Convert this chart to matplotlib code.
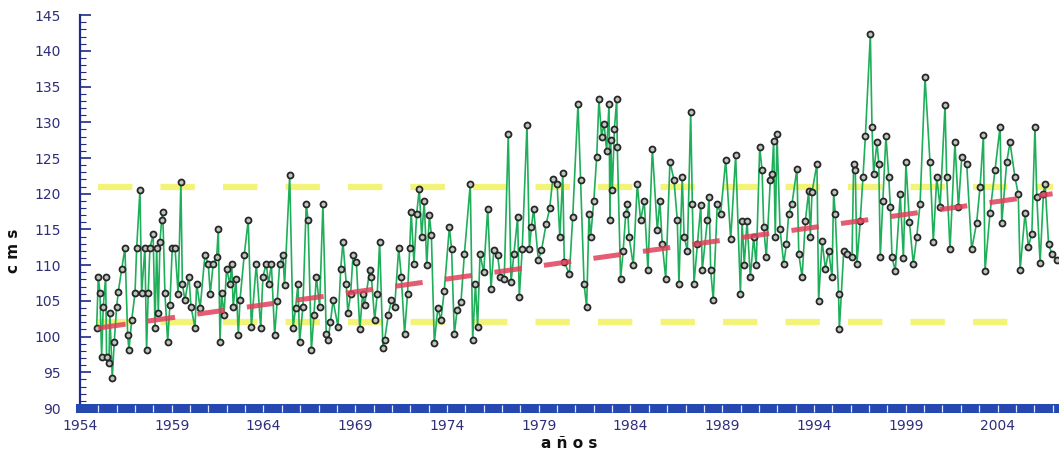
import numpy as np
import matplotlib
matplotlib.use("Agg")
import matplotlib.pyplot as plt

# sea level series (decimal year, cm)
years = [
    1954.91, 1955.00, 1955.09, 1955.18, 1955.27, 1955.40, 1955.45, 1955.58, 1955.63, 1955.76, 1955.87,
    1956.00, 1956.09, 1956.27, 1956.45, 1956.60, 1956.67, 1956.82,
    1957.00, 1957.09, 1957.27, 1957.36, 1957.54, 1957.63, 1957.72, 1957.81, 1957.99,
    1958.09, 1958.18, 1958.27, 1958.36, 1958.45, 1958.51, 1958.63, 1958.78, 1958.90,
    1959.03, 1959.18, 1959.35, 1959.50, 1959.58, 1959.72, 1959.94,
    1960.05, 1960.27, 1960.36, 1960.55, 1960.81, 1960.99,
    1961.10, 1961.26, 1961.45, 1961.54, 1961.63, 1961.72, 1961.85, 1961.99,
    1962.17, 1962.27, 1962.35, 1962.50, 1962.63, 1962.72, 1962.95,
    1963.17, 1963.34, 1963.61, 1963.85, 1963.97,
    1964.15, 1964.28, 1964.43, 1964.61, 1964.75, 1964.88,
    1965.06, 1965.15, 1965.43, 1965.61, 1965.75, 1965.88, 1965.97,
    1966.15, 1966.33, 1966.43, 1966.61, 1966.75, 1966.88,
    1967.06, 1967.24, 1967.42, 1967.52, 1967.65, 1967.79,
    1968.06, 1968.21, 1968.33, 1968.51, 1968.60, 1968.75, 1968.88,
    1969.06, 1969.25, 1969.40, 1969.51, 1969.79, 1969.88,
    1970.06, 1970.20, 1970.33, 1970.51, 1970.60, 1970.80, 1970.97,
    1971.15, 1971.37, 1971.51, 1971.69, 1971.85, 1971.97,
    1972.05, 1972.20, 1972.35, 1972.49, 1972.62, 1972.76, 1972.90,
    1973.04, 1973.15, 1973.31, 1973.50, 1973.67, 1973.85,
    1974.13, 1974.25, 1974.40, 1974.55, 1974.76, 1974.95,
    1975.27, 1975.40, 1975.55, 1975.67, 1975.80,
    1976.00, 1976.22, 1976.40, 1976.55, 1976.76, 1976.90,
    1977.12, 1977.34, 1977.49, 1977.65, 1977.85, 1977.94,
    1978.10, 1978.36, 1978.49, 1978.60, 1978.72, 1978.98,
    1979.15, 1979.40, 1979.60, 1979.76,
    1980.00, 1980.15, 1980.31, 1980.39, 1980.67, 1980.85,
    1981.14, 1981.28, 1981.47, 1981.61, 1981.74, 1981.83,
    1982.00, 1982.16, 1982.28, 1982.42, 1982.56, 1982.70, 1982.83, 1982.88, 1982.92,
    1983.01, 1983.12, 1983.25, 1983.28, 1983.46, 1983.60, 1983.74, 1983.83, 1983.92,
    1984.15, 1984.37, 1984.55, 1984.75, 1984.95,
    1985.19, 1985.46, 1985.60, 1985.73, 1985.92,
    1986.15, 1986.37, 1986.55, 1986.64, 1986.82, 1986.92,
    1987.10, 1987.28, 1987.37, 1987.46, 1987.65, 1987.83, 1987.91,
    1988.19, 1988.28, 1988.37, 1988.51, 1988.73, 1988.91,
    1989.19, 1989.46, 1989.73, 1989.99,
    1990.08, 1990.20, 1990.35, 1990.53, 1990.71, 1990.85,
    1991.04, 1991.17, 1991.26, 1991.40, 1991.62, 1991.71, 1991.80, 1991.89, 1991.98,
    1992.15, 1992.35, 1992.50, 1992.62, 1992.80,
    1993.07, 1993.17, 1993.35, 1993.53, 1993.71, 1993.80, 1993.89,
    1994.16, 1994.25, 1994.44, 1994.62, 1994.80, 1994.98,
    1995.07, 1995.16, 1995.34, 1995.38, 1995.62, 1995.80,
    1996.07, 1996.16, 1996.25, 1996.34, 1996.52, 1996.67, 1996.80,
    1997.07, 1997.16, 1997.25, 1997.43, 1997.53, 1997.61, 1997.75, 1997.92,
    1998.07, 1998.16, 1998.25, 1998.43, 1998.70, 1998.87,
    1999.01, 1999.20, 1999.41, 1999.60, 1999.78,
    2000.05, 2000.32, 2000.50, 2000.69, 2000.87,
    2001.14, 2001.23, 2001.41, 2001.68, 2001.87,
    2002.05, 2002.32, 2002.59, 2002.86,
    2003.05, 2003.23, 2003.32, 2003.59, 2003.86,
    2004.14, 2004.23, 2004.50, 2004.68, 2004.95,
    2005.13, 2005.23, 2005.50, 2005.68, 2005.87,
    2006.04, 2006.14, 2006.32, 2006.50, 2006.59, 2006.78, 2006.96,
    2007.23,
]
levels = [
    101.2, 108.4, 106.1, 97.2, 104.2, 108.4, 97.2, 96.3, 103.3, 94.2, 99.3,
    104.2, 106.3, 109.4, 112.4, 100.2, 98.1, 102.3,
    106.1, 112.4, 120.5, 106.1, 112.4, 98.1, 106.1, 112.4, 114.3,
    101.2, 112.4, 103.3, 113.3, 116.3, 117.5, 106.1, 99.3, 104.4,
    112.4, 112.4, 106.0, 121.6, 107.4, 105.1, 108.4,
    104.2, 101.2, 107.4, 104.0, 111.4, 110.2,
    106.0, 110.2, 111.1, 115.1, 99.3, 106.1, 103.0, 109.5,
    107.4, 110.2, 104.2, 108.0, 100.2, 105.1, 111.4,
    116.3, 101.4, 110.2, 101.2, 108.4,
    110.2, 107.4, 110.2, 100.2, 105.0, 110.2,
    111.4, 107.2, 122.6, 101.2, 104.0, 107.4, 99.3,
    104.2, 118.6, 116.3, 98.1, 103.0, 108.4,
    104.2, 118.6, 100.4, 99.5, 102.0, 105.1,
    101.4, 109.5, 113.3, 107.4, 103.3, 106.0, 111.4,
    110.5, 101.0, 106.0, 104.4, 109.3, 108.4,
    102.3, 106.0, 113.3, 98.4, 99.5, 103.0, 105.1,
    104.2, 112.4, 108.4, 100.4, 106.0, 112.4,
    117.5, 110.2, 117.2, 120.7, 114.0, 119.0, 110.0,
    117.0, 114.2, 99.1, 104.0, 102.3, 106.4,
    115.3, 112.3, 100.3, 103.7, 104.8, 111.6,
    121.4, 99.5, 107.4, 101.4, 111.6,
    109.0, 117.9, 106.7, 112.1, 111.4, 108.4,
    108.1, 128.4, 107.6, 111.6, 116.7, 105.5,
    112.3, 129.6, 112.3, 115.3, 117.9, 110.7,
    112.1, 115.7, 118.0, 122.0,
    121.4, 113.9, 122.9, 110.5, 108.7, 116.7,
    132.6, 121.9, 107.4, 104.1, 117.2, 114.0,
    119.0, 125.2, 133.3, 128.0, 129.8, 126.0, 132.6, 116.3, 127.5,
    120.5, 129.0, 133.3, 126.6, 108.1, 112.0, 117.2, 118.6, 114.0,
    110.0, 121.4, 116.3, 119.0, 109.3,
    126.3, 114.9, 119.0, 113.0, 108.1,
    124.5, 121.9, 116.3, 107.4, 122.4, 114.0,
    112.0, 131.4, 118.6, 107.4, 113.0, 118.4, 109.3,
    116.3, 119.6, 109.3, 105.1, 118.6, 117.2,
    124.7, 113.6, 125.4, 105.9,
    116.2, 110.0, 116.2, 108.3, 113.9, 110.0,
    126.5, 123.3, 115.3, 111.1, 121.9, 122.8, 127.4, 113.9, 128.4,
    115.0, 110.2, 113.0, 117.2, 118.6,
    123.5, 111.6, 108.3, 116.2, 120.4, 114.0, 120.2,
    124.2, 105.0, 113.4, 109.5, 112.0, 108.3,
    120.2, 117.2, 105.9, 101.0, 112.0, 111.6,
    111.1, 124.2, 123.3, 110.2, 116.2, 122.4, 128.1,
    142.3, 129.3, 122.8, 127.2, 124.2, 111.1, 119.0, 128.1,
    122.4, 118.2, 111.1, 109.2, 119.9, 111.0,
    124.4, 116.0, 110.2, 114.0, 118.6,
    136.3, 124.4, 113.3, 122.3, 118.1,
    132.4, 122.3, 112.2, 127.2, 118.1,
    125.1, 124.2, 112.2, 115.9,
    121.0, 128.2, 109.2, 117.3, 123.3,
    129.4, 115.9, 124.4, 127.2, 122.3,
    120.0, 109.3, 117.3, 112.6, 114.4,
    129.4, 119.6, 110.3, 120.0, 121.4, 113.0, 111.6,
    110.7,
]

# linear trend (start/end) and reference band
trend_years = [1955.0, 2007.0]
trend_levels = [101.2, 120.0]
upper_band = 120.9
lower_band = 102.0
upper_span = [1955.0, 2007.0]
lower_span = [1955.0, 2005.6]

x_ticks = list(range(1954, 2005, 5))
y_ticks = list(range(90, 146, 5))

NAVY = "#1e2a86"

fig = plt.figure(figsize=(10.59, 4.59), dpi=100)
ax = fig.add_axes([0.0755, 0.111, 0.9245, 0.856])

ax.plot(upper_span, [upper_band] * 2, color="#eef04a", lw=4.5, alpha=0.75,
        dashes=(5.5, 4.5), solid_capstyle="butt", zorder=1)
ax.plot(lower_span, [lower_band] * 2, color="#eef04a", lw=4.5, alpha=0.75,
        dashes=(5.5, 4.5), solid_capstyle="butt", zorder=1)

ax.plot(years, levels, color="#1fae5a", lw=1.2, zorder=2)
ax.plot(years, levels, ls="none", marker="o", ms=4.3, mfc="#bfc6bf",
        mec="#262626", mew=1.3, zorder=3)

ax.plot(trend_years, trend_levels, color="#e0405a", lw=3.6, alpha=0.85,
        dashes=(5.5, 4.5), zorder=4)

ax.set_xlim(1954, 2007.35)
ax.set_ylim(90, 145)

for s in ("top", "right"):
    ax.spines[s].set_visible(False)
ax.spines["left"].set_color(NAVY)
ax.spines["left"].set_linewidth(1.6)
ax.spines["bottom"].set_color("#2448b0")
ax.spines["bottom"].set_linewidth(6.5)

ax.set_yticks(y_ticks)
ax.set_yticks(np.arange(90, 146, 1), minor=True)
ax.tick_params(axis="y", which="major", direction="in", length=8, width=1.2,
               color=NAVY, labelcolor="#2e2e7a", labelsize=10, pad=14)
ax.tick_params(axis="y", which="minor", direction="in", length=4, width=0.8, color=NAVY)

ax.set_xticks(x_ticks)
ax.set_xticklabels([str(y) for y in x_ticks])
ax.tick_params(axis="x", which="major", length=0, labelcolor="#2e2e7a",
               labelsize=10, pad=8)
# light year marks on the thick bottom bar
ax.vlines(np.arange(1955, 2008), -0.009, 0.009, transform=ax.get_xaxis_transform(),
          colors="#dfe6ff", lw=0.9, clip_on=False, zorder=6)

ax.set_ylabel("c m s", fontsize=11, fontweight="bold", color="#111111")
ax.yaxis.set_label_coords(-0.06, 0.4)
ax.set_xlabel("a ñ o s", fontsize=11, fontweight="bold", color="#111111", labelpad=2)

fig.savefig("out.png", dpi=100)
